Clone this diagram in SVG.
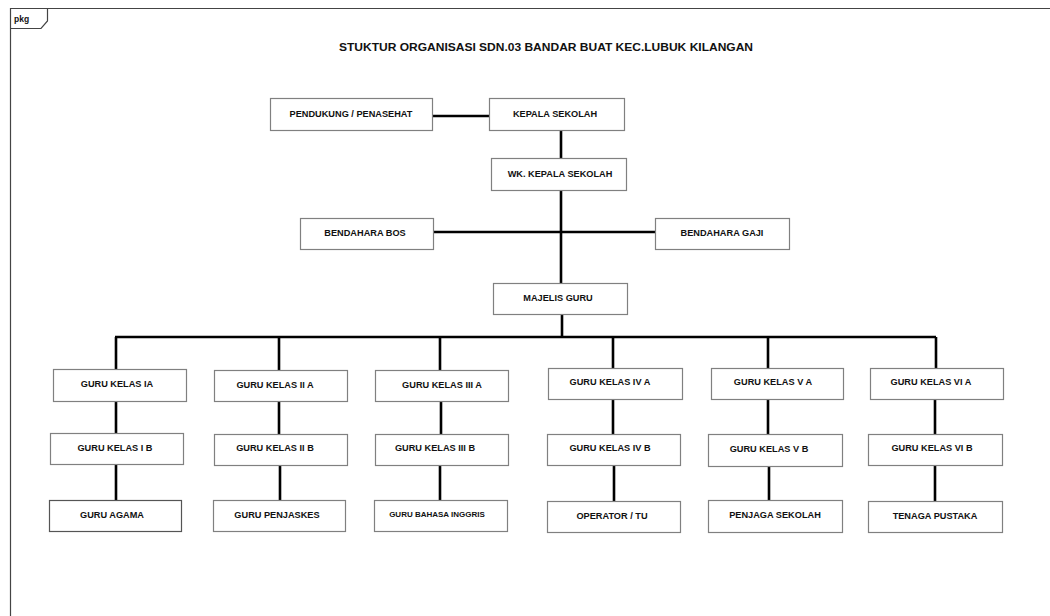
<svg xmlns="http://www.w3.org/2000/svg" width="1050" height="616" viewBox="0 0 1050 616">
<style>
.frame{fill:none;stroke:#444;stroke-width:1.2}
.box{fill:#fff;stroke:#808080;stroke-width:1.2}
.lbl{font-family:"Liberation Sans",Arial,sans-serif;font-weight:bold;font-size:9.2px;fill:#111;text-anchor:middle}
.sm{font-size:8px}
.title{font-family:"Liberation Sans",Arial,sans-serif;font-weight:bold;font-size:11px;fill:#111;text-anchor:middle}
.con{fill:none;stroke:#000;stroke-width:2.6}
</style>
<rect width="1050" height="616" fill="#fff"/>
<g id="frame">
<path class="frame" d="M10.5,616 V8.5 H1050"/>
<path class="frame" d="M10.5,28.5 H41 L47.5,21 V8.5"/>
<text x="14" y="22" style="font-family:'Liberation Sans',Arial,sans-serif;font-weight:bold;font-size:8.5px;fill:#111">pkg</text>
</g>
<text class="title" x="546" y="51" textLength="414" lengthAdjust="spacingAndGlyphs">STUKTUR ORGANISASI SDN.03 BANDAR BUAT KEC.LUBUK KILANGAN</text>
<g id="connectors">
<path class="con" d="M432,116 H490"/>
<path class="con" d="M561,130 V283"/>
<path class="con" d="M433,232 H655"/>
<path class="con" d="M562,314 V337"/>
<path class="con" d="M115,337 H936"/>
<path class="con" d="M116,337 V369 M116,401 V433 M116,464 V500"/>
<path class="con" d="M279,337 V370 M279,401 V434 M280,465 V500"/>
<path class="con" d="M440,337 V370 M441,401 V434 M440,465 V500"/>
<path class="con" d="M613,337 V368 M613,399 V434 M614,465 V501"/>
<path class="con" d="M768,337 V368 M768,399 V434 M769,466 V500"/>
<path class="con" d="M936,337 V368 M935,399 V434 M935,465 V501"/>
</g>
<g id="pendukung"><rect class="box" x="270.5" y="98.5" width="162" height="32"/><text class="lbl" x="351" y="116.5">PENDUKUNG / PENASEHAT</text></g>
<g id="kepala"><rect class="box" x="489.5" y="98.5" width="135" height="32"/><text class="lbl" x="555" y="116.5">KEPALA SEKOLAH</text></g>
<g id="wk"><rect class="box" x="491.5" y="158.5" width="135" height="32"/><text class="lbl" x="560" y="176.5">WK. KEPALA SEKOLAH</text></g>
<g id="bos"><rect class="box" x="300.5" y="218.5" width="133" height="31"/><text class="lbl" x="365" y="236">BENDAHARA BOS</text></g>
<g id="gaji"><rect class="box" x="655.5" y="218.5" width="134" height="31"/><text class="lbl" x="722" y="236">BENDAHARA GAJI</text></g>
<g id="majelis"><rect class="box" x="493.5" y="283.5" width="134" height="31"/><text class="lbl" x="558" y="301">MAJELIS GURU</text></g>

<g id="k1a"><rect class="box" x="53.5" y="369.5" width="133" height="32"/><text class="lbl" x="117" y="387">GURU KELAS IA</text></g>
<g id="k1b"><rect class="box" x="50.5" y="433.5" width="133" height="31"/><text class="lbl" x="115" y="450.5">GURU KELAS I B</text></g>
<g id="agama"><rect class="box" x="49.5" y="500.5" width="132" height="31" style="stroke:#555"/><text class="lbl" x="112" y="517.5">GURU AGAMA</text></g>

<g id="k2a"><rect class="box" x="214.5" y="370.5" width="133" height="31"/><text class="lbl" x="275" y="387.5">GURU KELAS II A</text></g>
<g id="k2b"><rect class="box" x="214.5" y="434.5" width="133" height="31"/><text class="lbl" x="275" y="451">GURU KELAS II B</text></g>
<g id="penjaskes"><rect class="box" x="213.5" y="500.5" width="132" height="31"/><text class="lbl" x="277" y="517.5">GURU PENJASKES</text></g>

<g id="k3a"><rect class="box" x="375.5" y="370.5" width="133" height="31"/><text class="lbl" x="442" y="387.5">GURU KELAS III A</text></g>
<g id="k3b"><rect class="box" x="375.5" y="434.5" width="133" height="31"/><text class="lbl" x="435" y="451">GURU KELAS III B</text></g>
<g id="inggris"><rect class="box" x="374.5" y="500.5" width="133" height="31"/><text class="lbl sm" x="437" y="516.5">GURU BAHASA INGGRIS</text></g>

<g id="k4a"><rect class="box" x="548.5" y="368.5" width="134" height="31"/><text class="lbl" x="610" y="385">GURU KELAS IV A</text></g>
<g id="k4b"><rect class="box" x="547.5" y="434.5" width="133" height="31"/><text class="lbl" x="610" y="451">GURU KELAS IV B</text></g>
<g id="operator"><rect class="box" x="547.5" y="501.5" width="133" height="31"/><text class="lbl" x="612" y="518.5">OPERATOR / TU</text></g>

<g id="k5a"><rect class="box" x="711.5" y="368.5" width="132" height="31"/><text class="lbl" x="773" y="385">GURU KELAS V A</text></g>
<g id="k5b"><rect class="box" x="708.5" y="434.5" width="134" height="32"/><text class="lbl" x="769" y="452">GURU KELAS V B</text></g>
<g id="penjaga"><rect class="box" x="708.5" y="500.5" width="134" height="32"/><text class="lbl" x="775" y="518">PENJAGA SEKOLAH</text></g>

<g id="k6a"><rect class="box" x="870.5" y="368.5" width="133" height="31"/><text class="lbl" x="931" y="385">GURU KELAS VI A</text></g>
<g id="k6b"><rect class="box" x="868.5" y="434.5" width="134" height="31"/><text class="lbl" x="932" y="451">GURU KELAS VI B</text></g>
<g id="tenaga"><rect class="box" x="868.5" y="501.5" width="134" height="31"/><text class="lbl" x="935" y="518.5">TENAGA PUSTAKA</text></g>
</svg>
